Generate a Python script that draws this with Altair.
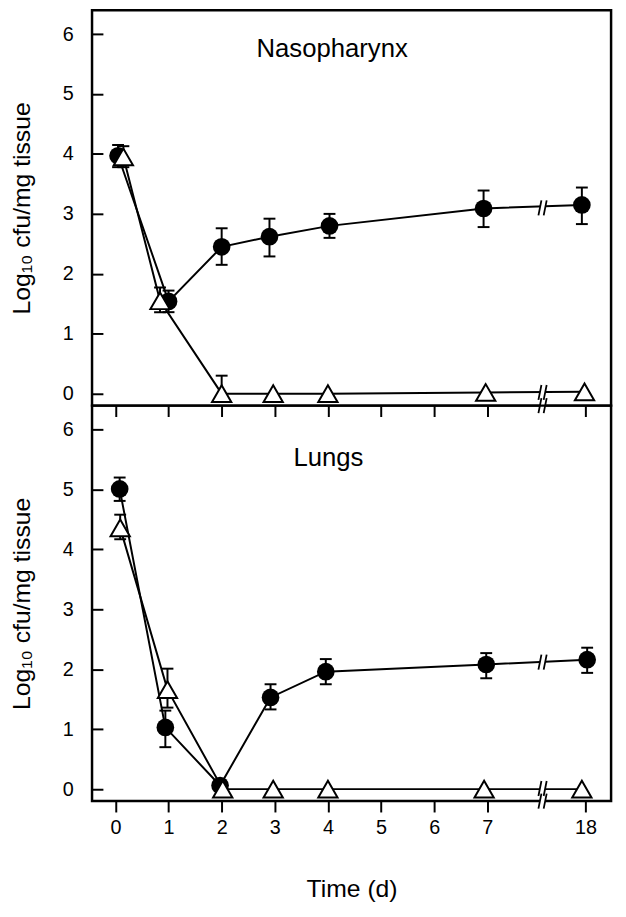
import altair as alt
import pandas as pd

FONT = "Liberation Sans"

# x-axis layout (day 18 sits after an axis break)
tick_pos = [0, 1, 2, 3, 4, 5, 6, 7, 8.85]
tick_lab = ["0", "1", "2", "3", "4", "5", "6", "7", "18"]
days = [0, 1, 2, 3, 4, 7, 18]

# ---- Nasopharynx ----
naso_circ_x = [0.05, 1.00, 2.00, 2.90, 4.03, 6.93, 8.78]
naso_circ_y = [3.97, 1.54, 2.45, 2.62, 2.80, 3.09, 3.15]
naso_circ_lo = [3.78, 1.36, 2.15, 2.29, 2.60, 2.78, 2.83]
naso_circ_hi = [4.15, 1.72, 2.76, 2.92, 3.00, 3.39, 3.44]

naso_tri_x = [0.15, 0.84, 2.00, 2.97, 4.00, 6.97, 8.83]
naso_tri_y = [3.95, 1.55, 0.00, 0.00, 0.00, 0.02, 0.03]
naso_tri_lo = [3.78, 1.36, -0.08, 0.00, 0.00, 0.02, 0.03]
naso_tri_hi = [4.13, 1.77, 0.30, 0.00, 0.00, 0.02, 0.03]

# ---- Lungs ----
lung_circ_x = [0.08, 0.94, 1.97, 2.92, 3.96, 6.98, 8.88]
lung_circ_y = [5.01, 1.03, 0.06, 1.53, 1.96, 2.08, 2.16]
lung_circ_lo = [4.81, 0.70, 0.06, 1.33, 1.75, 1.85, 1.94]
lung_circ_hi = [5.20, 1.31, 0.06, 1.75, 2.17, 2.27, 2.36]

lung_tri_x = [0.09, 0.98, 2.02, 2.97, 4.00, 6.94, 8.78]
lung_tri_y = [4.36, 1.66, 0.00, 0.00, 0.00, 0.00, 0.00]
lung_tri_lo = [4.17, 1.36, 0.00, 0.00, 0.00, 0.00, 0.00]
lung_tri_hi = [4.58, 2.01, 0.00, 0.00, 0.00, 0.00, 0.00]

# axis-break symbols (x position, y on each line / on the axis)
break_x = 8.04
naso_break_y = [3.10, 0.02, -0.2]
lung_break_y = [2.12, 0.01, -0.2]

panel_names = ["Nasopharynx", "Lungs"]
panel_label_x = [4.08, 4.01]
panel_label_y = [5.75, 5.52]

rows = []
def add(panel, series, xs, ys, los, his):
    for d, x, y, lo, hi in zip(days, xs, ys, los, his):
        rows.append(dict(panel=panel, series=series, day=d, x=x, y=y, lo=lo, hi=hi))

add("Nasopharynx", "circle", naso_circ_x, naso_circ_y, naso_circ_lo, naso_circ_hi)
add("Nasopharynx", "triangle", naso_tri_x, naso_tri_y, naso_tri_lo, naso_tri_hi)
add("Lungs", "circle", lung_circ_x, lung_circ_y, lung_circ_lo, lung_circ_hi)
add("Lungs", "triangle", lung_tri_x, lung_tri_y, lung_tri_lo, lung_tri_hi)
df = pd.DataFrame(rows)

brk = pd.DataFrame(
    [dict(panel="Nasopharynx", x=break_x, y=v) for v in naso_break_y]
    + [dict(panel="Lungs", x=break_x, y=v) for v in lung_break_y]
)
labels = pd.DataFrame(dict(panel=panel_names, x=panel_label_x, y=panel_label_y, text=panel_names))

xscale = alt.Scale(domain=[-0.44, 9.33], nice=False, zero=False)
yscale = alt.Scale(domain=[-0.2, 6.4], nice=False, zero=False)

label_expr = "datum.value > 8 ? '18' : format(datum.value, 'd')"

def make_panel(name, bottom):
    if bottom:
        xaxis = alt.Axis(values=tick_pos, labelExpr=label_expr, tickSize=11, tickWidth=2,
                         tickColor="black", domain=False, grid=False, labelFontSize=20,
                         labelPadding=6, labelColor="black", labelFont=FONT,
                         titleFontSize=25, titleFont=FONT, titleFontWeight="normal",
                         titlePadding=40, titleColor="black")
        xtitle = "Time (d)"
    else:
        xaxis = alt.Axis(values=tick_pos, labels=False, tickSize=11, tickWidth=2,
                         tickColor="black", domain=False, grid=False)
        xtitle = None
    yaxis = alt.Axis(values=[0, 1, 2, 3, 4, 5, 6], offset=-11, tickSize=11, tickWidth=2,
                     tickColor="black", domain=False, grid=False, labelFontSize=20,
                     labelPadding=19, labelColor="black", labelFont=FONT,
                     titleFontSize=25, titleFont=FONT, titleFontWeight="normal",
                     titlePadding=28, titleColor="black")
    ytitle = "Log\u2081\u2080 cfu/mg tissue"

    def X(f="x"):
        return alt.X(f"{f}:Q", scale=xscale, axis=xaxis, title=xtitle)

    def Y(f="y"):
        return alt.Y(f"{f}:Q", scale=yscale, axis=yaxis, title=ytitle)

    d = df[df.panel == name]
    base = alt.Chart(d)
    errs = base.transform_filter("datum.hi > datum.lo")
    rules = errs.mark_rule(color="black", strokeWidth=2).encode(x=X(), y=Y("lo"), y2="hi:Q")
    cap_lo = errs.mark_tick(orient="horizontal", size=12, thickness=2, color="black", opacity=1).encode(x=X(), y=Y("lo"))
    cap_hi = errs.mark_tick(orient="horizontal", size=12, thickness=2, color="black", opacity=1).encode(x=X(), y=Y("hi"))
    lines = base.mark_line(color="black", strokeWidth=2).encode(
        x=X(), y=Y(), detail="series:N", order="x:Q")

    b = alt.Chart(brk[brk.panel == name])
    brk_white = b.mark_point(shape="M-0.55,1L-0.15,-1L0.55,-1L0.15,1Z", filled=True, color="white",
                             strokeWidth=0, size=230, opacity=1).encode(x=X(), y=Y())
    brk_lines = b.mark_point(shape="M-0.55,1L-0.15,-1M0.15,1L0.55,-1", filled=False, color="black",
                             strokeWidth=1.8, size=230, opacity=1).encode(x=X(), y=Y())

    circles = base.transform_filter("datum.series == 'circle'").mark_point(
        shape="circle", filled=True, color="black", size=320, opacity=1).encode(x=X(), y=Y())
    tris = base.transform_filter("datum.series == 'triangle'").mark_point(
        shape="triangle-up", filled=True, fill="white", stroke="black", strokeWidth=2,
        size=380, opacity=1).encode(x=X(), y=Y())

    lab = alt.Chart(labels[labels.panel == name]).mark_text(
        fontSize=26, font=FONT, color="black").encode(x=X(), y=Y(), text="text:N")

    return alt.layer(rules, cap_lo, cap_hi, lines, brk_white, brk_lines, circles, tris, lab).properties(
        width=525, height=400)

top = make_panel("Nasopharynx", False)
bottom = make_panel("Lungs", True)

chart = alt.vconcat(top, bottom, spacing=0, bounds="flush").properties(
    padding={"left": 0, "top": -5, "right": 5, "bottom": 5}
).configure_view(stroke="black", strokeWidth=2.5)

chart.save("out.html", embed_options={"renderer": "svg", "actions": False})
